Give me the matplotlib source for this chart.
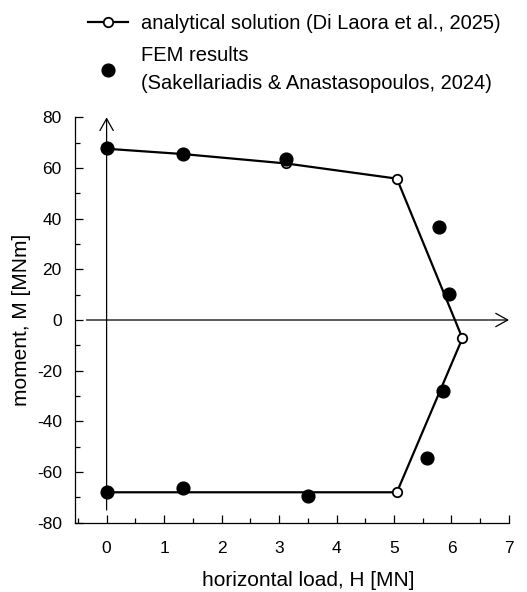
import numpy as np
import matplotlib.pyplot as plt
from matplotlib.ticker import MultipleLocator

plt.rcParams['font.family'] = ['Liberation Sans', 'DejaVu Sans']
plt.rcParams['axes.unicode_minus'] = False

# analytical solution (Di Laora et al., 2025)
H_anal = [0.0, 1.33, 3.12, 5.05, 6.19, 5.05, 0.0]
M_anal = [67.6, 65.5, 61.8, 55.8, -7.2, -68.0, -68.0]

# FEM results (Sakellariadis & Anastasopoulos, 2024)
H_fem = [0.0, 1.33, 3.12, 5.79, 5.96, 5.85, 5.57, 3.51, 1.33, 0.0]
M_fem = [68.0, 65.6, 63.4, 36.7, 10.4, -28.0, -54.3, -69.4, -66.2, -67.9]

xticks = [0, 1, 2, 3, 4, 5, 6, 7]
yticks = [-80, -60, -40, -20, 0, 20, 40, 60, 80]

fig = plt.figure(figsize=(5.27, 5.92), dpi=100)
ax = fig.add_axes([0.1423, 0.1171, 0.8235, 0.6847])

# axes with arrows through origin
arrow = dict(arrowstyle='->,head_length=0.43,head_width=0.24',
             lw=0.9, color='black', mutation_scale=20, shrinkA=0, shrinkB=0)
ax.annotate('', xy=(0, 80), xytext=(0, -75), arrowprops=arrow,
            annotation_clip=False, zorder=1)
ax.annotate('', xy=(7.0, 0), xytext=(-0.35, 0), arrowprops=arrow,
            annotation_clip=False, zorder=1)

ax.plot(H_anal, M_anal, '-o', color='black', lw=1.6, ms=6.8, mfc='white',
        mec='black', mew=1.3, label='analytical solution (Di Laora et al., 2025)', zorder=3)
ax.plot(H_fem, M_fem, 'o', color='black', ms=9.2, ls='none',
        label='FEM results\n(Sakellariadis & Anastasopoulos, 2024)', zorder=4)

ax.set_xlim(-0.55, 7)
ax.set_ylim(-80, 80)
ax.set_xticks(xticks)
ax.set_yticks(yticks)
ax.xaxis.set_minor_locator(MultipleLocator(0.5))
ax.yaxis.set_minor_locator(MultipleLocator(10))
ax.tick_params(which='both', direction='in', labelsize=12.5, width=0.9)
ax.tick_params(which='major', length=6)
ax.tick_params(which='minor', length=3.5)
ax.tick_params(axis='x', pad=13)
ax.tick_params(axis='y', pad=9.5)

ax.spines['top'].set_visible(False)
ax.spines['right'].set_visible(False)
ax.spines['left'].set_linewidth(0.9)
ax.spines['bottom'].set_linewidth(0.9)

ax.set_xlabel('horizontal load, H [MN]', fontsize=15)
ax.set_ylabel('moment, M [MNm]', fontsize=15)
ax.xaxis.set_label_coords((3.5 + 0.55) / 7.55, -0.12)
ax.yaxis.set_label_coords(-0.102, 0.5)

leg = ax.legend(loc='upper left', bbox_to_anchor=(0.167, 0.976), bbox_transform=fig.transFigure,
                frameon=False, fontsize=14.5, handlelength=2.0, handletextpad=0.65,
                borderpad=0, borderaxespad=0, labelspacing=0.62)
leg.get_texts()[1].set_linespacing(1.62)

fig.savefig('out.png', dpi=100)
